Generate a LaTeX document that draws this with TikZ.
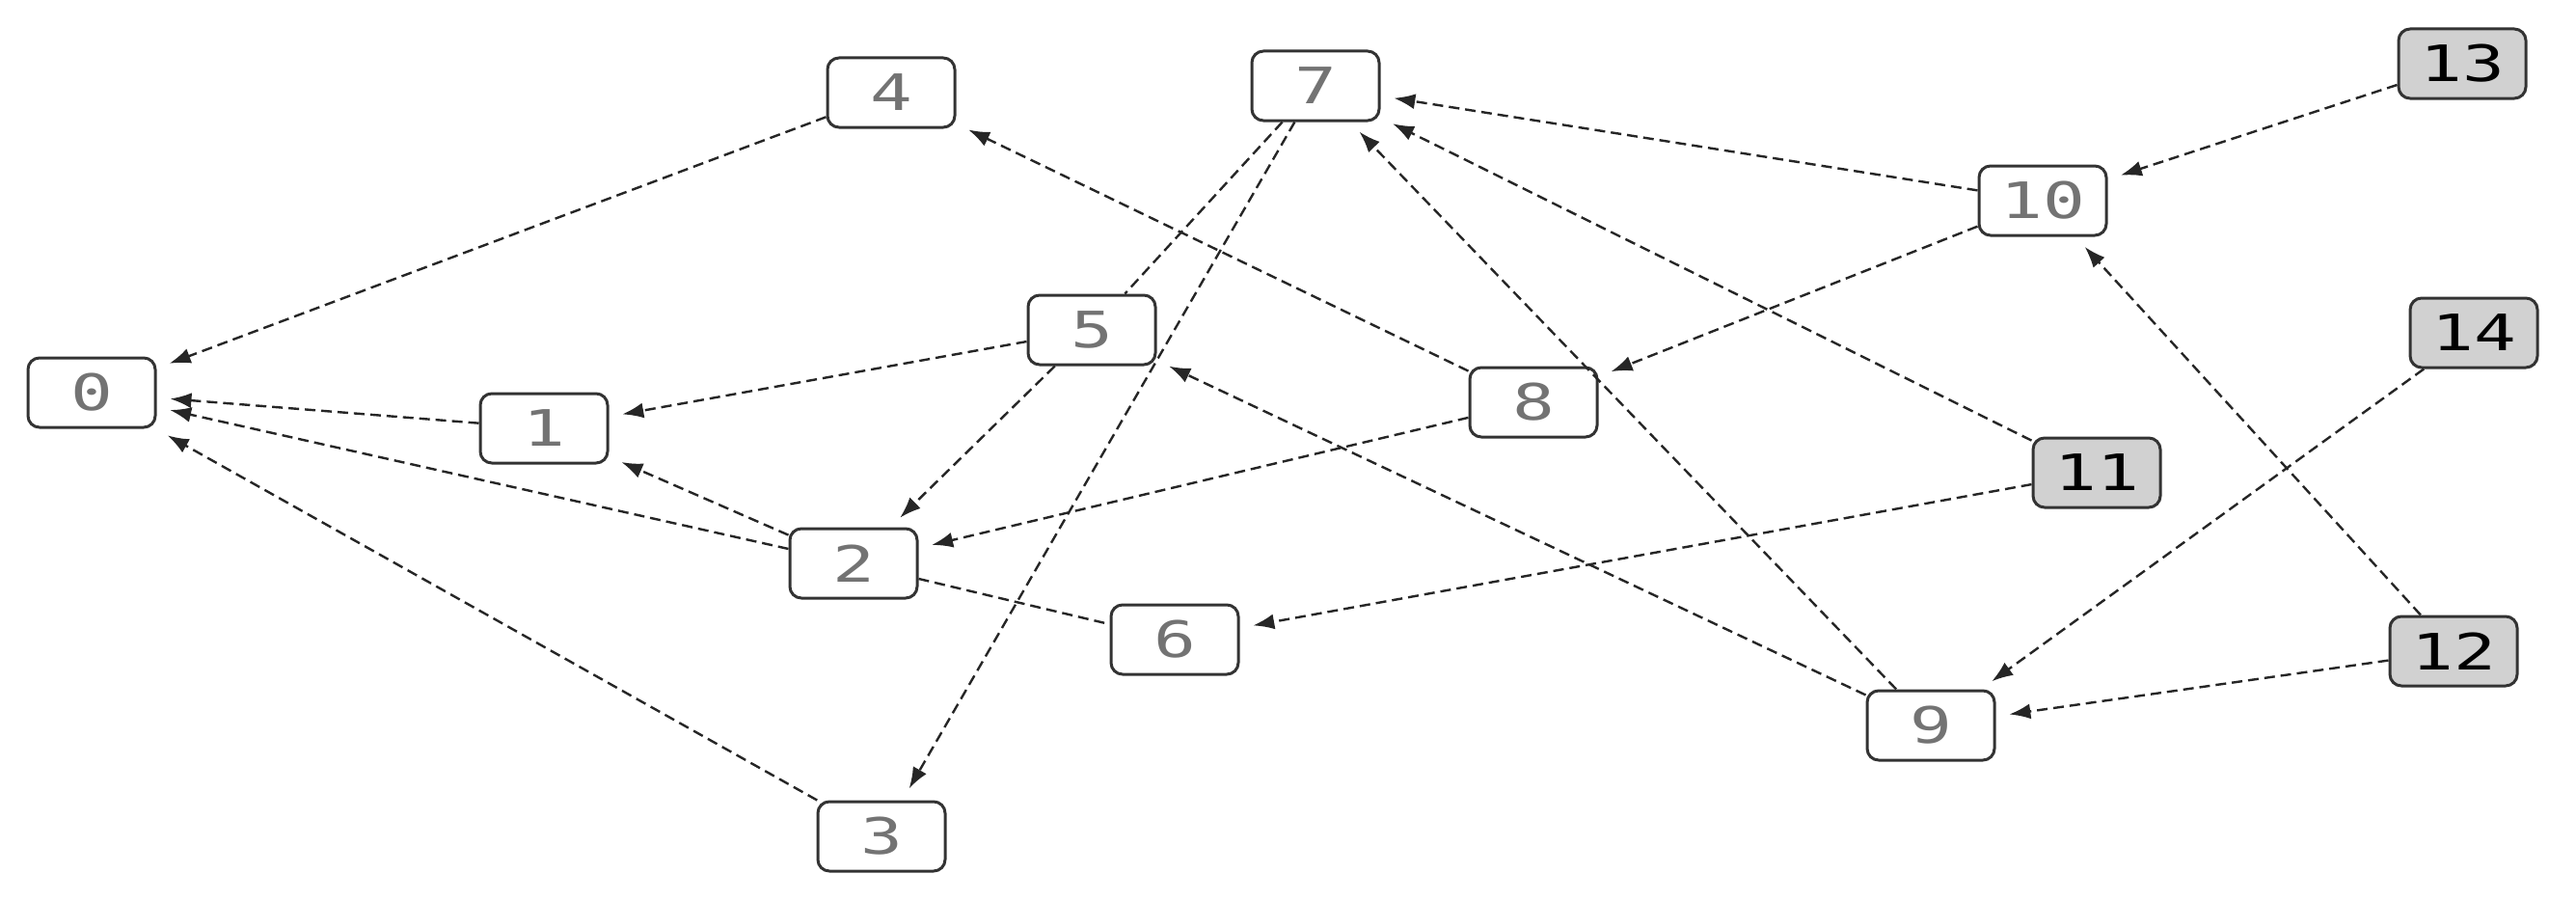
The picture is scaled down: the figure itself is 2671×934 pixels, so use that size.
\documentclass[tikz,border=0pt]{standalone}
\usepackage{fontspec}
\setmonofont{DejaVu Sans Mono}
\usetikzlibrary{arrows.meta}
\begin{document}
\begin{tikzpicture}[x=1pt,y=-1pt,
  nd/.style={draw=black!80,line width=3pt,rounded corners=12pt,minimum width=132pt,minimum height=72pt,fill=white,text=black!55,inner sep=0pt},
  gn/.style={nd,fill=black!18,text=black},
  ed/.style={draw=black!85,line width=2.4pt,dash pattern=on 11pt off 6pt,-{Latex[length=22pt,width=16pt]},shorten >=14pt},
  pl/.style={draw=black!85,line width=2.4pt,dash pattern=on 11pt off 6pt}]
\useasboundingbox (0,0) rectangle (2671,934);
\newcommand{\lb}[1]{\scalebox{1.4}[1]{\fontsize{52}{52}\selectfont\ttfamily #1}}
\node[nd] (n0) at (95,407) {\lb{0}};
\node[nd] (n1) at (564,444) {\lb{1}};
\node[nd] (n2) at (885,584) {\lb{2}};
\node[nd] (n3) at (914,867) {\lb{3}};
\node[nd] (n4) at (924,96) {\lb{4}};
\node[nd] (n5) at (1132,342) {\lb{5}};
\node[nd] (n6) at (1218,663) {\lb{6}};
\node[nd] (n7) at (1364,89) {\lb{7}};
\node[nd] (n8) at (1590,417) {\lb{8}};
\node[nd] (n9) at (2002,752) {\lb{9}};
\node[nd] (n10) at (2118,208) {\lb{10}};
\node[gn] (n11) at (2174,490) {\lb{11}};
\node[gn] (n12) at (2544,675) {\lb{12}};
\node[gn] (n13) at (2553,66) {\lb{13}};
\node[gn] (n14) at (2565,345) {\lb{14}};
\draw[ed] (n4) -- (n0);
\draw[ed] (n1) -- (n0);
\draw[ed] (n2) -- (n0);
\draw[ed] (n3) -- (n0);
\draw[ed] (n2) -- (n1);
\draw[ed] (n5) -- (n1);
\draw[ed] (n5) -- (n2);
\draw[pl] (n7) -- (n5);
\draw[pl] (n2) -- (n6);
\draw[ed] (n7) -- (n3);
\draw[ed] (n8) -- (n4);
\draw[ed] (n8) -- (n2);
\draw[ed] (n9) -- (n5);
\draw[ed] (n10) -- (n7);
\draw[ed] (n9) -- (n7);
\draw[ed] (n11) -- (n7);
\draw[ed] (n10) -- (n8);
\draw[ed] (n13) -- (n10);
\draw[ed] (n12) -- (n10);
\draw[ed] (n14) -- (n9);
\draw[ed] (n12) -- (n9);
\draw[ed] (n11) -- (n6);
\end{tikzpicture}
\end{document}
